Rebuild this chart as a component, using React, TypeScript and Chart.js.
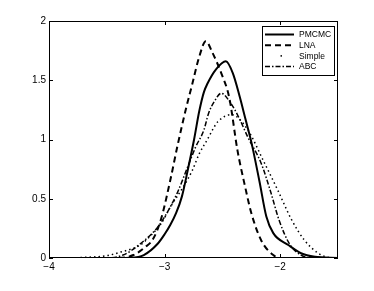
import React, { useEffect, useRef } from "react";
import { Chart, registerables } from "chart.js";
Chart.register(...registerables);

const pmcmcX = [-4, -3.5, -3.3, -3.18, -3.06, -3.0, -2.95, -2.9, -2.85, -2.8, -2.745, -2.7, -2.66, -2.63, -2.557, -2.47, -2.41, -2.35, -2.3, -2.25, -2.18, -2.12, -2.06, -1.93, -1.82, -1.7, -1.5];
const pmcmcY = [0, 0, 0.003, 0.025, 0.12, 0.2, 0.28, 0.38, 0.52, 0.74, 1.0, 1.24, 1.4, 1.47, 1.59, 1.66, 1.56, 1.36, 1.17, 0.98, 0.65, 0.35, 0.21, 0.11, 0.04, 0.01, 0];

const lnaX = [-4, -3.4, -3.27, -3.17, -3.1, -3.03, -2.95, -2.89, -2.82, -2.76, -2.7, -2.643, -2.585, -2.51, -2.44, -2.37, -2.31, -2.25, -2.165, -2.06, -2.0, -1.5];
const lnaY = [0, 0, 0.025, 0.09, 0.16, 0.33, 0.66, 0.94, 1.24, 1.47, 1.7, 1.83, 1.73, 1.56, 1.35, 0.91, 0.63, 0.38, 0.15, 0.025, 0, 0];

const simpleX = [-4, -3.7, -3.5, -3.38, -3.21, -3.12, -3.03, -2.95, -2.82, -2.76, -2.7, -2.63, -2.58, -2.54, -2.42, -2.28, -2.15, -2.02, -1.9, -1.79, -1.67, -1.58, -1.5];
const simpleY = [0, 0.005, 0.02, 0.05, 0.11, 0.19, 0.29, 0.43, 0.63, 0.74, 0.88, 1.0, 1.09, 1.15, 1.21, 1.08, 0.83, 0.57, 0.32, 0.15, 0.04, 0.005, 0];

const abcX = [-4, -3.5, -3.36, -3.21, -3.06, -2.98, -2.89, -2.8, -2.73, -2.66, -2.62, -2.57, -2.51, -2.43, -2.36, -2.28, -2.165, -2.08, -2.01, -1.92, -1.82, -1.72, -1.5];
const abcY = [0, 0, 0.025, 0.12, 0.26, 0.38, 0.55, 0.77, 0.94, 1.08, 1.22, 1.32, 1.39, 1.31, 1.19, 1.02, 0.8, 0.55, 0.32, 0.12, 0.025, 0, 0];

const xTicks = [-4, -3, -2];
const yTicks = [0, 0.5, 1, 1.5, 2];
const seriesNames = ["PMCMC", "LNA", "Simple", "ABC"];

const FONT = "'Liberation Sans', Arial, sans-serif";

const styles = [
  { width: 2, dash: [] as number[] },
  { width: 2, dash: [6, 4] },
  { width: 1.5, dash: [1.5, 3] },
  { width: 1.5, dash: [5, 2, 1.5, 2] },
];

const toPts = (xs: number[], ys: number[]) => xs.map((x, i) => ({ x, y: ys[i] }));

const framePlugin = {
  id: "frame",
  afterDraw(chart: any) {
    const { ctx, chartArea: a, scales } = chart;
    ctx.save();
    ctx.strokeStyle = "#000";
    ctx.lineWidth = 1;
    ctx.setLineDash([]);
    ctx.strokeRect(a.left + 0.5, a.top + 0.5, a.right - a.left - 1, a.bottom - a.top - 1);
    const tl = 4;
    ctx.beginPath();
    xTicks.forEach((v) => {
      const px = Math.round(scales.x.getPixelForValue(v)) + 0.5;
      ctx.moveTo(px, a.bottom);
      ctx.lineTo(px, a.bottom - tl);
      ctx.moveTo(px, a.top);
      ctx.lineTo(px, a.top + tl);
    });
    yTicks.forEach((v) => {
      const py = Math.round(scales.y.getPixelForValue(v)) + 0.5;
      ctx.moveTo(a.left, py);
      ctx.lineTo(a.left + tl, py);
      ctx.moveTo(a.right, py);
      ctx.lineTo(a.right - tl, py);
    });
    ctx.stroke();

    // legend
    const lx = 262, ly = 26, lw = 72, lh = 49;
    ctx.fillStyle = "#fff";
    ctx.fillRect(lx, ly, lw, lh);
    ctx.strokeRect(lx + 0.5, ly + 0.5, lw, lh);
    ctx.font = `8.5px ${FONT}`;
    ctx.textBaseline = "middle";
    ctx.textAlign = "left";
    seriesNames.forEach((name, i) => {
      const y = 34.5 + i * 10.7;
      ctx.strokeStyle = "#000";
      ctx.fillStyle = "#000";
      if (i === 2) {
        ctx.fillRect(280.5, y - 0.75, 1.5, 1.5);
      } else {
        ctx.lineWidth = styles[i].width;
        ctx.setLineDash(styles[i].dash);
        ctx.beginPath();
        ctx.moveTo(265, y);
        ctx.lineTo(294, y);
        ctx.stroke();
      }
      ctx.setLineDash([]);
      ctx.fillText(name, 299, y + 0.5);
    });
    ctx.restore();
  },
};

export default function App() {
  const ref = useRef<HTMLCanvasElement>(null);
  useEffect(() => {
    document.body.style.margin = "0";
    const data = [
      toPts(pmcmcX, pmcmcY),
      toPts(lnaX, lnaY),
      toPts(simpleX, simpleY),
      toPts(abcX, abcY),
    ];
    const chart = new Chart(ref.current!, {
      type: "line",
      data: {
        datasets: data.map((d, i) => ({
          label: seriesNames[i],
          data: d,
          borderColor: "#000",
          borderWidth: styles[i].width,
          borderDash: styles[i].dash,
          pointRadius: 0,
          fill: false,
          cubicInterpolationMode: "monotone" as const,
        })),
      },
      options: {
        responsive: false,
        animation: false,
        layout: { padding: { top: 21, right: 36, left: 0, bottom: 0 } },
        plugins: { legend: { display: false }, tooltip: { enabled: false } },
        scales: {
          x: {
            type: "linear",
            min: -4,
            max: -1.5,
            afterBuildTicks: (s: any) => {
              s.ticks = xTicks.map((v) => ({ value: v }));
            },
            afterFit: (s: any) => {
              s.height = 33;
            },
            grid: { display: false, drawTicks: false },
            border: { display: false },
            ticks: {
              color: "#000",
              font: { family: FONT, size: 10 },
              padding: 3,
              maxRotation: 0,
              autoSkip: false,
              callback: (v: any) => String(v).replace("-", "\u2212"),
            },
          },
          y: {
            type: "linear",
            min: 0,
            max: 2,
            afterBuildTicks: (s: any) => {
              s.ticks = yTicks.map((v) => ({ value: v }));
            },
            afterFit: (s: any) => {
              s.width = 49;
            },
            grid: { display: false, drawTicks: false },
            border: { display: false },
            ticks: {
              color: "#000",
              font: { family: FONT, size: 10 },
              padding: 3,
              autoSkip: false,
              callback: (v: any) => String(v),
            },
          },
        },
      },
      plugins: [framePlugin],
    });
    return () => chart.destroy();
  }, []);
  return <canvas ref={ref} width={374} height={291} style={{ display: "block" }} />;
}
